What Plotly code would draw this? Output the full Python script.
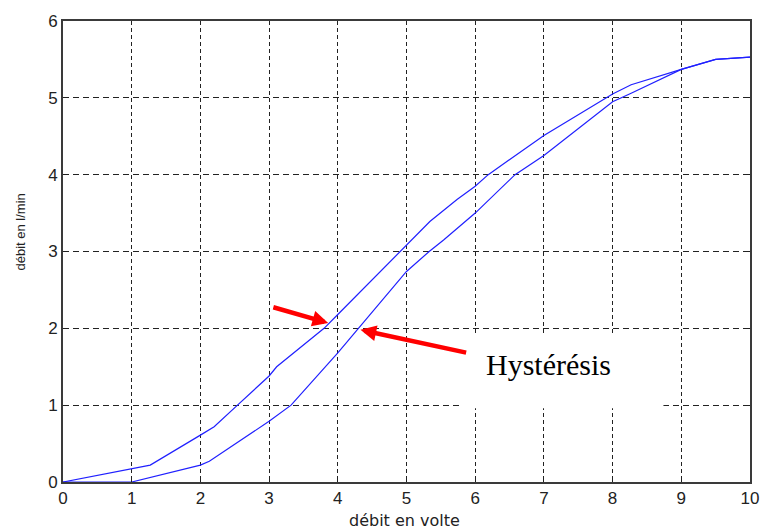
import plotly.graph_objects as go

# Flow response of the valve: rising and falling sweeps (hysteresis loop)
volts_up = [0, 1.27, 2.0, 2.2, 2.54, 3.0, 3.11, 3.8, 4.0, 4.9, 5.0, 5.34, 5.74, 6.0, 6.19, 7.0, 8.0, 8.27, 9.0, 9.5, 10.0]
flow_up = [0, 0.22, 0.61, 0.72, 1.0, 1.38, 1.5, 2.0, 2.18, 3.0, 3.09, 3.39, 3.68, 3.85, 4.0, 4.51, 5.05, 5.17, 5.37, 5.5, 5.53]

volts_down = [0, 1.0, 2.0, 2.13, 3.0, 3.32, 4.0, 4.3, 5.0, 5.33, 5.54, 6.0, 6.58, 7.0, 8.0, 8.27, 9.0, 9.5, 10.0]
flow_down = [0, 0, 0.22, 0.27, 0.79, 1.0, 1.68, 2.0, 2.74, 3.0, 3.15, 3.5, 4.0, 4.25, 4.95, 5.06, 5.37, 5.5, 5.53]

x_ticks = list(range(0, 11))
y_ticks = list(range(0, 7))

fig = go.Figure()
fig.add_trace(go.Scatter(x=volts_up, y=flow_up, mode="lines",
                         line=dict(color="#2020ff", width=1.2), showlegend=False))
fig.add_trace(go.Scatter(x=volts_down, y=flow_down, mode="lines",
                         line=dict(color="#2020ff", width=1.2), showlegend=False))

axis_common = dict(
    showline=True, linecolor="#3a3a3a", linewidth=2, mirror="ticks",
    ticks="inside", ticklen=4, tickwidth=1, tickcolor="#222",
    showgrid=True, gridcolor="#222", gridwidth=1,
    zeroline=False,
    tickfont=dict(family="Liberation Sans, Arial", size=17, color="#222"),
)

fig.update_xaxes(range=[0, 10], tickvals=x_ticks, griddash="4px,3px", **axis_common)
fig.update_yaxes(range=[0, 6], tickvals=y_ticks, griddash="6px,4px", **axis_common)

# white label box over the grid
fig.add_shape(type="rect", xref="x", yref="y", x0=5.81, x1=8.74, y0=0.96, y1=1.92,
              fillcolor="white", line=dict(width=0), layer="above")

# hysteresis arrows
arrow_style = dict(showarrow=True, arrowhead=2, arrowsize=0.7, arrowwidth=4.5,
                   arrowcolor="red", text="", xref="x", yref="y", axref="x", ayref="y")
fig.add_annotation(x=3.86, y=2.07, ax=3.04, ay=2.28, **arrow_style)
fig.add_annotation(x=4.33, y=1.98, ax=5.89, ay=1.68, **arrow_style)

fig.add_annotation(x=7.06, y=1.53, xref="x", yref="y", text="Hystérésis", showarrow=False,
                   xanchor="center", yanchor="middle",
                   font=dict(family="Liberation Serif, Times New Roman", size=30, color="black"))

# axis titles
fig.add_annotation(x=0.497, y=-0.083, xref="paper", yref="paper", text="débit en volte",
                   showarrow=False, xanchor="center", yanchor="middle",
                   font=dict(family="DejaVu Sans", size=16, color="#222"))
fig.add_annotation(x=-0.062, y=0.542, xref="paper", yref="paper", text="débit en l/min",
                   showarrow=False, textangle=-90, xanchor="center", yanchor="middle",
                   font=dict(family="Liberation Sans, Arial", size=13, color="#222"))

fig.update_layout(
    width=771, height=529,
    margin=dict(l=63, r=12, t=21, b=47),
    plot_bgcolor="white", paper_bgcolor="white",
)

fig.write_html("out.html")
